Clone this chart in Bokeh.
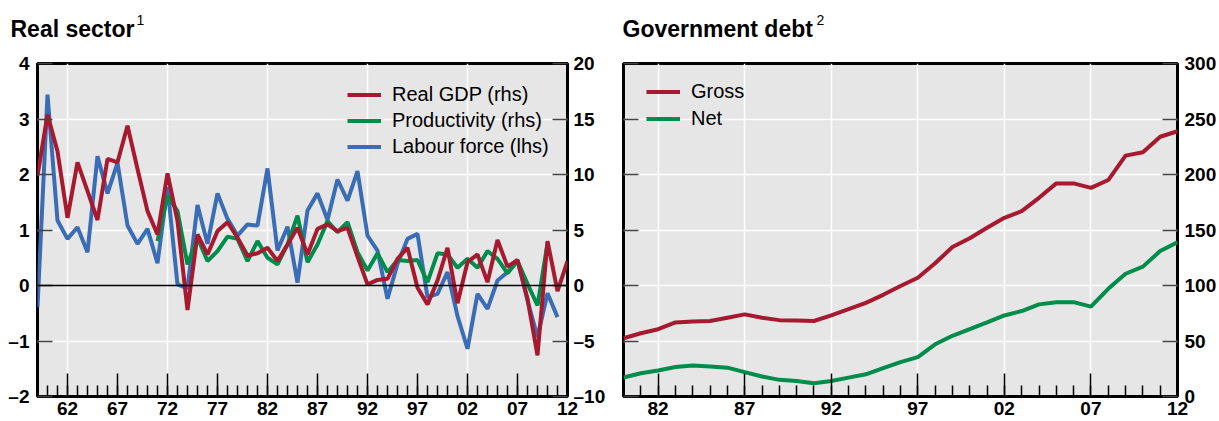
from bokeh.plotting import figure
from bokeh.models import (Range1d, LinearAxis, FixedTicker, Span, Legend,
                          LegendItem, Label, CustomLabelingPolicy)
from bokeh.layouts import row, column
from bokeh.embed import file_html
from bokeh.resources import INLINE

# ---------------------------------------------------------------- data
# Real sector: annual growth, per cent
gdp_years = list(range(1959, 2013))
real_gdp = [9.9, 15.4, 12.1, 6.1, 11.1, 8.5, 5.9, 11.4, 11.1, 14.4,
            10.5, 6.7, 4.6, 10.1, 5.8, -2.2, 4.6, 2.8, 4.9, 5.7,
            4.3, 2.7, 2.9, 3.4, 2.2, 3.7, 5.2, 2.8, 5.1, 5.5,
            4.9, 5.2, 2.6, 0.1, 0.5, 0.6, 2.4, 3.4, -0.2, -1.7,
            0.45, 3.4, -1.6, 2.1, 2.8, 0.3, 4.1, 1.7, 2.3, -1.2,
            -6.3, 4.0, -0.5, 2.2]

prod_years = list(range(1971, 2011))
productivity = [4.0, 8.1, 6.7, 1.9, 4.3, 2.2, 3.1, 4.4, 4.2, 2.2,
                4.0, 2.5, 1.9, 3.7, 6.3, 2.1, 3.7, 5.8, 4.8, 5.7,
                3.0, 1.35, 2.9, 1.2, 2.3, 2.2, 2.3, 0.3, 2.9, 2.8,
                1.6, 2.4, 1.6, 3.1, 2.4, 1.1, 2.2, 0.15, -1.8, 3.8]

labour_years = list(range(1959, 2012))
labour_force = [-0.39, 3.44, 1.17, 0.84, 1.05, 0.6, 2.33, 1.66, 2.21, 1.08,
                0.75, 1.02, 0.4, 1.77, 0.02, -0.05, 1.45, 0.75, 1.66, 1.2,
                0.9, 1.1, 1.08, 2.11, 0.63, 1.06, 0.05, 1.35, 1.66, 1.18,
                1.91, 1.53, 2.06, 0.9, 0.63, -0.24, 0.39, 0.84, 0.93, -0.21,
                -0.15, 0.24, -0.55, -1.14, -0.15, -0.42, 0.09, 0.24, 0.45, -0.27,
                -0.93, -0.14, -0.57]

# Government debt, per cent of GDP
debt_years = list(range(1980, 2013))
gross_debt = [52.5, 57, 60.6, 66.7, 67.5, 68, 71, 74, 71, 68.8,
              68.5, 68, 73, 78.7, 84.4, 91.6, 99.5, 107, 120, 134.7,
              142.5, 152, 161, 167, 179, 192, 192, 188, 195, 217,
              220, 234, 239]
net_debt = [17.1, 21, 23.4, 26.5, 28, 27, 26, 22, 18, 15,
            14, 12, 14, 17, 20, 25.5, 31, 35.5, 47, 54.7,
            60.7, 66.7, 73, 77, 83, 85, 85, 81, 97, 110.6,
            117, 131, 139]

# axis ticks and their labels
real_lhs_ticks = [-2, -1, 0, 1, 2, 3, 4]
real_lhs_labels = ["\u20132", "\u20131", "0", "1", "2", "3", "4"]
real_rhs_ticks = [-10, -5, 0, 5, 10, 15, 20]
real_rhs_labels = ["\u201310", "\u20135", "0", "5", "10", "15", "20"]
real_year_ticks = [1962, 1967, 1972, 1977, 1982, 1987, 1992, 1997, 2002, 2007, 2012]
debt_year_ticks = [1982, 1987, 1992, 1997, 2002, 2007, 2012]
debt_ticks = [0, 50, 100, 150, 200, 250, 300]

# ---------------------------------------------------------------- style
FONT = "Liberation Sans"
RED = "#A6192E"
GREEN = "#008C4B"
BLUE = "#3A6DB5"
PANEL_BG = "#E6E6E6"
TICK_SIZE = "19px"
HEADER_H = 50
CHART_H = 421 - HEADER_H


def yy(y):
    return f"{y % 100:02d}"


def make_fig(width, xr, yr, border_left, border_right):
    p = figure(width=width, height=CHART_H, x_range=xr, y_range=yr,
               output_backend="svg", toolbar_location=None,
               min_border_left=border_left, min_border_right=border_right,
               min_border_top=63 - HEADER_H, min_border_bottom=25,
               background_fill_color=PANEL_BG, border_fill_color="white",
               outline_line_color="black", outline_line_width=3)
    for g in (p.xgrid, p.ygrid):
        g.grid_line_color = "white"
        g.grid_line_width = 1.5
    return p


def style_axis(ax, tick_in, minor_in=0, color="black"):
    ax.axis_line_color = None
    ax.major_tick_in = tick_in
    ax.major_tick_out = 0
    ax.minor_tick_in = minor_in
    ax.minor_tick_out = 0
    ax.major_tick_line_color = color
    ax.minor_tick_line_color = color
    ax.major_tick_line_width = 1.5
    ax.minor_tick_line_width = 1.5
    ax.major_label_text_font = FONT
    ax.major_label_text_font_size = TICK_SIZE
    ax.major_label_text_font_style = "bold"
    ax.major_label_text_color = "black"


def legend(p, items, loc, spacing):
    lg = Legend(items=items, location=loc, orientation="vertical",
                background_fill_alpha=0, border_line_color=None,
                padding=0, margin=0, spacing=spacing,
                glyph_width=34, glyph_height=23, label_height=23,
                label_standoff=11, label_text_font=FONT,
                label_text_font_size="20px", label_text_color="black",
                label_text_baseline="middle")
    p.add_layout(lg)


# ---------------------------------------------------------------- titles strip
header = figure(width=1219, height=HEADER_H, x_range=Range1d(0, 1219),
                y_range=Range1d(HEADER_H, 0), output_backend="svg",
                toolbar_location=None, x_axis_location=None,
                y_axis_location=None, min_border=0,
                outline_line_color=None, background_fill_color="white",
                border_fill_color="white")
header.xgrid.visible = False
header.ygrid.visible = False

titles = [("Real sector", "1", 10, 136), ("Government debt", "2", 622, 816)]
for text, sup, x_main, x_sup in titles:
    header.add_layout(Label(x=x_main, y=28, text=text, text_font=FONT,
                            text_font_style="bold", text_font_size="23px",
                            text_baseline="alphabetic", text_color="black"))
    header.add_layout(Label(x=x_sup, y=19, text=sup, text_font=FONT,
                            text_font_size="14px", text_baseline="alphabetic",
                            text_color="black"))

# ---------------------------------------------------------------- real sector
p1 = make_fig(612, Range1d(1959, 2012), Range1d(-2, 4), 37, 45)
p1.extra_y_ranges = {"rhs": Range1d(-10, 20)}

p1.xaxis.ticker = FixedTicker(ticks=real_year_ticks, minor_ticks=gdp_years)
p1.xaxis.major_label_overrides = {t: yy(t) for t in real_year_ticks}
style_axis(p1.xaxis[0], 23, 11)
p1.xaxis.major_label_standoff = 5

p1.yaxis.ticker = FixedTicker(ticks=real_lhs_ticks)
p1.yaxis.major_label_overrides = dict(zip(real_lhs_ticks, real_lhs_labels))
style_axis(p1.yaxis[0], 15, color="#444444")
p1.yaxis.major_label_standoff = 8

rhs = LinearAxis(y_range_name="rhs", ticker=FixedTicker(ticks=real_rhs_ticks),
                 major_label_overrides=dict(zip(real_rhs_ticks, real_rhs_labels)))
style_axis(rhs, 15, color="#444444")
rhs.major_label_standoff = 6
p1.add_layout(rhs, "right")

p1.xgrid.ticker = FixedTicker(ticks=[1962, 1972, 1982, 1992, 2002])
p1.ygrid.ticker = FixedTicker(ticks=[-1, 1, 2, 3])
p1.add_layout(Span(location=0, dimension="width", line_color="black",
                   line_width=1.5))

r_lab = p1.line(labour_years, labour_force, line_color=BLUE, line_width=4)
r_prod = p1.line(prod_years, productivity, y_range_name="rhs",
                 line_color=GREEN, line_width=4)
r_gdp = p1.line(gdp_years, real_gdp, y_range_name="rhs",
                line_color=RED, line_width=4)

legend(p1, [LegendItem(label="Real GDP (rhs)", renderers=[r_gdp]),
            LegendItem(label="Productivity (rhs)", renderers=[r_prod]),
            LegendItem(label="Labour force (lhs)", renderers=[r_lab])],
       (310, 238), 3)

# ---------------------------------------------------------------- government debt
p2 = make_fig(607, Range1d(1980, 2012), Range1d(0, 300), 11, 40)

p2.xaxis.ticker = FixedTicker(ticks=debt_year_ticks, minor_ticks=debt_years)
p2.xaxis.major_label_overrides = {t: yy(t) for t in debt_year_ticks}
style_axis(p2.xaxis[0], 23, 11)
p2.xaxis.major_label_standoff = 5

# left side carries tick marks only; the values are read on the right
p2.yaxis.ticker = FixedTicker(ticks=debt_ticks)
style_axis(p2.yaxis[0], 15, color="#444444")
p2.yaxis.major_label_text_font_size = "0px"
p2.yaxis.major_label_policy = CustomLabelingPolicy(
    code="for (const i of indices) indices.unset(i)\nreturn indices")
p2.yaxis.major_label_standoff = 0

rhs2 = LinearAxis(ticker=FixedTicker(ticks=debt_ticks))
style_axis(rhs2, 15, color="#444444")
rhs2.major_label_standoff = 7
p2.add_layout(rhs2, "right")

p2.xgrid.ticker = FixedTicker(ticks=[1982, 1987, 1992, 1997, 2002, 2007])
p2.ygrid.ticker = FixedTicker(ticks=[50, 100, 150, 200, 250])

r_gross = p2.line(debt_years, gross_debt, line_color=RED, line_width=4)
r_net = p2.line(debt_years, net_debt, line_color=GREEN, line_width=4)

legend(p2, [LegendItem(label="Gross", renderers=[r_gross]),
            LegendItem(label="Net", renderers=[r_net])],
       (23, 266), 4)

layout = column(header, row(p1, p2))
open("out.html", "w").write(file_html(layout, INLINE))
